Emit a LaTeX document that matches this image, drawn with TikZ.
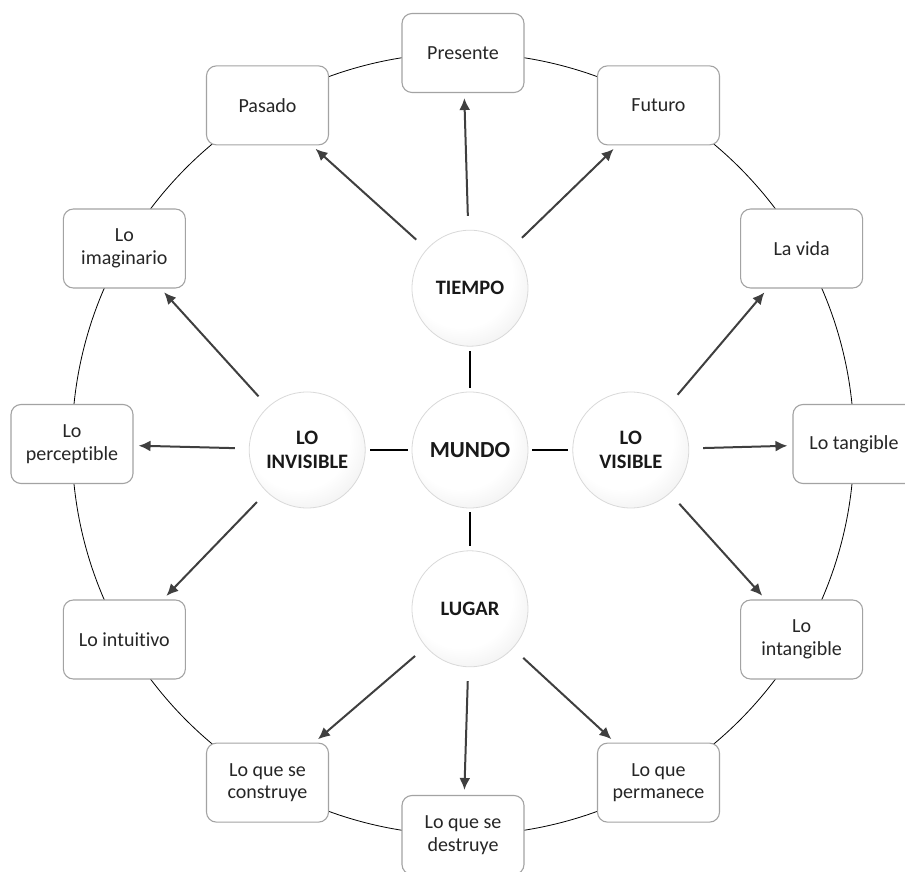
\documentclass[tikz,border=0pt]{standalone}
\usepackage{fontspec}
\setmainfont{Carlito}[Ligatures={NoCommon}]
\usetikzlibrary{arrows.meta,positioning}
\definecolor{arrowgray}{HTML}{3F3F3F}
\definecolor{boxgray}{HTML}{A3A3A3}
\pgfdeclareradialshading{orb}{\pgfpoint{-6bp}{8bp}}{color(0bp)=(white); color(22bp)=(white); color(38bp)=(black!9); color(50bp)=(black!28); color(60bp)=(black!32)}
\tikzset{
  >={Latex[length=12pt,width=11pt]},
  item/.style={draw=boxgray, line width=1.1pt, rounded corners=10pt, fill=white, minimum width=122pt, minimum height=79pt, align=center, text=black!85, font=\fontsize{20}{22.5}\selectfont},
  hub/.style={circle, draw=black!15, line width=0.8pt, shade, shading=orb, minimum size=116pt, align=center, text=black!90, font=\bfseries\fontsize{20.5}{23.5}\selectfont},
  link/.style={line width=1.9pt, shorten >=4pt, shorten <=4pt},
  arr/.style={->, draw=arrowgray, line width=2pt, shorten <=14pt, shorten >=5pt},
  ring/.style={line width=0.8pt},
}
\begin{document}
\begin{tikzpicture}[x=1pt, y=1pt]
  \useasboundingbox (-463,-428) rectangle (442,444);
  \coordinate (o) at (0,0);
  \draw[ring] (o) circle (391pt);

  % outer ring
  \node[item] (presente) at (90:391) {Presente};
  \node[item] (futuro) at (60:391) {Futuro};
  \node[item] (vida) at (30:391) {La vida};
  \node[item] (tangible) at (0:391) {Lo tangible};
  \node[item] (intangible) at (-30:391) {Lo\\intangible};
  \node[item] (permanece) at (-60:391) {Lo que\\permanece};
  \node[item] (destruye) at (-90:391) {Lo que se\\destruye};
  \node[item] (construye) at (-120:391) {Lo que se\\construye};
  \node[item] (intuitivo) at (-150:391) {Lo intuitivo};
  \node[item] (perceptible) at (180:391) {Lo\\perceptible};
  \node[item] (imaginario) at (150:391) {Lo\\imaginario};
  \node[item] (pasado) at (120:391) {Pasado};

  % hubs
  \node[hub, font=\bfseries\fontsize{23}{27}\selectfont] (mundo) at (7,-6) {MUNDO};
  \node[hub, above=45pt of mundo] (tiempo) {TIEMPO};
  \node[hub, below=42pt of mundo] (lugar) {LUGAR};
  \node[hub, left=46pt of mundo] (invisible) {LO\\INVISIBLE};
  \node[hub, right=44pt of mundo] (visible) {LO\\VISIBLE};

  \draw[link] (mundo) -- (tiempo);
  \draw[link] (mundo) -- (lugar);
  \draw[link] (mundo) -- (invisible);
  \draw[link] (mundo) -- (visible);

  \draw[arr] (tiempo) -- (pasado);
  \draw[arr] (tiempo) -- (presente);
  \draw[arr] (tiempo) -- (futuro);
  \draw[arr] (visible) -- (vida);
  \draw[arr] (visible) -- (tangible);
  \draw[arr] (visible) -- (intangible);
  \draw[arr] (lugar) -- (permanece);
  \draw[arr] (lugar) -- (destruye);
  \draw[arr] (lugar) -- (construye);
  \draw[arr] (invisible) -- (intuitivo);
  \draw[arr] (invisible) -- (perceptible);
  \draw[arr] (invisible) -- (imaginario);
\end{tikzpicture}
\end{document}
